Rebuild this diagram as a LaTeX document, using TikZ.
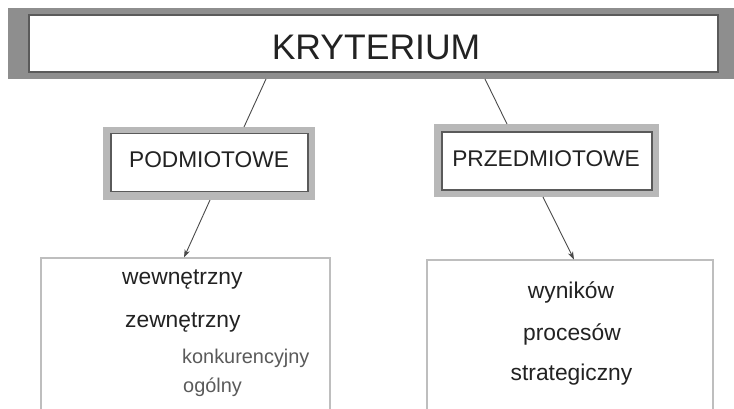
\documentclass[tikz,border=0pt]{standalone}
\usepackage{fontspec}
\setmainfont{Liberation Sans}
\usetikzlibrary{arrows.meta,calc}
\definecolor{bandgray}{HTML}{8E8E8E}
\definecolor{framegray}{HTML}{B8B8B8}
\definecolor{bordergray}{HTML}{5A5A5A}
\definecolor{boxgray}{HTML}{BEBEBE}
\definecolor{linegray}{HTML}{4A4A4A}
\definecolor{textdark}{HTML}{222222}
\definecolor{textlight}{HTML}{5A5A5A}
\tikzset{
  band/.style={fill=bandgray, draw=none, inner sep=0pt},
  titlebox/.style={fill=white, draw=bordergray, line width=1.2pt, inner sep=0pt,
    font=\fontsize{35.5}{40}\selectfont, text=textdark},
  frame/.style={fill=framegray, draw=none, inner sep=0pt},
  catbox/.style={fill=white, draw=bordergray, line width=1.5pt, inner sep=0pt,
    font=\fontsize{22.7}{26}\selectfont, text=textdark},
  listbox/.style={fill=white, draw=boxgray, line width=1.8pt, inner sep=0pt},
  item/.style={font=\fontsize{22.8}{26}\selectfont, text=textdark, inner sep=0pt},
  subitem/.style={font=\fontsize{19.9}{23}\selectfont, text=textlight, inner sep=0pt},
  conn/.style={draw=linegray, line width=0.9pt},
  arr/.style={conn, -{Stealth[length=8pt,width=5.5pt]}}
}
\begin{document}
\begin{tikzpicture}[x=1pt,y=-1pt]
\useasboundingbox (0,0) rectangle (734,408);
\clip (0,0) rectangle (734,408);
% top
\node[band, minimum width=726, minimum height=71] (bandnode) at (371,43.5) {};
\node[titlebox, minimum width=689, minimum height=57] (kryt) at (373.5,43.5) {};
\node[font=\fontsize{35.5}{40}\selectfont, text=textdark, inner sep=0pt, anchor=base] (krytlabel) at (376,59) {KRYTERIUM};
% category boxes
\node[frame, minimum width=212, minimum height=73] (podframe) at (209,163.5) {};
\node[catbox, minimum width=197, minimum height=58] (pod) at (209.5,162.5) {};
\node[font=\fontsize{22.7}{26}\selectfont, text=textdark, inner sep=0pt] (podlabel) at (209,160) {PODMIOTOWE};
\node[frame, minimum width=225, minimum height=73] (prframe) at (546.5,160.5) {};
\node[catbox, minimum width=210, minimum height=58] (pr) at (547,161) {};
\node[font=\fontsize{22.7}{26}\selectfont, text=textdark, inner sep=0pt] (prlabel) at (546,159) {PRZEDMIOTOWE};
% list boxes
\node[listbox, minimum width=289, minimum height=180] (lbox) at (185.5,348) {};
\node[listbox, minimum width=286, minimum height=180] (rbox) at (570,350) {};
% items
\node[item, anchor=base west] (w1) at (122,284) {wewnętrzny};
\node[item, anchor=base west] (w2) at (125,327) {zewnętrzny};
\node[subitem, anchor=base west] (w3) at (182,363) {konkurencyjny};
\node[subitem, anchor=base west] (w4) at (183,392) {ogólny};
\node[item, anchor=base] (r1) at (571,298) {wyników};
\node[item, anchor=base] (r2) at (572,340) {procesów};
\node[item, anchor=base] (r3) at (571.5,380) {strategiczny};
% connectors
\coordinate (s1) at (266,79);
\coordinate (e1) at (244,127);
\coordinate (s2) at (485,79);
\coordinate (e2) at (507,124);
\draw[conn] (s1) -- (e1);
\draw[conn] (s2) -- (e2);
\coordinate (a1) at (210,200);
\coordinate (a2) at (543,197);
\coordinate (t1) at (184,257.5);
\coordinate (t2) at (574,259.5);
\draw[arr] (a1) -- (t1);
\draw[arr] (a2) -- (t2);
\end{tikzpicture}
\end{document}
